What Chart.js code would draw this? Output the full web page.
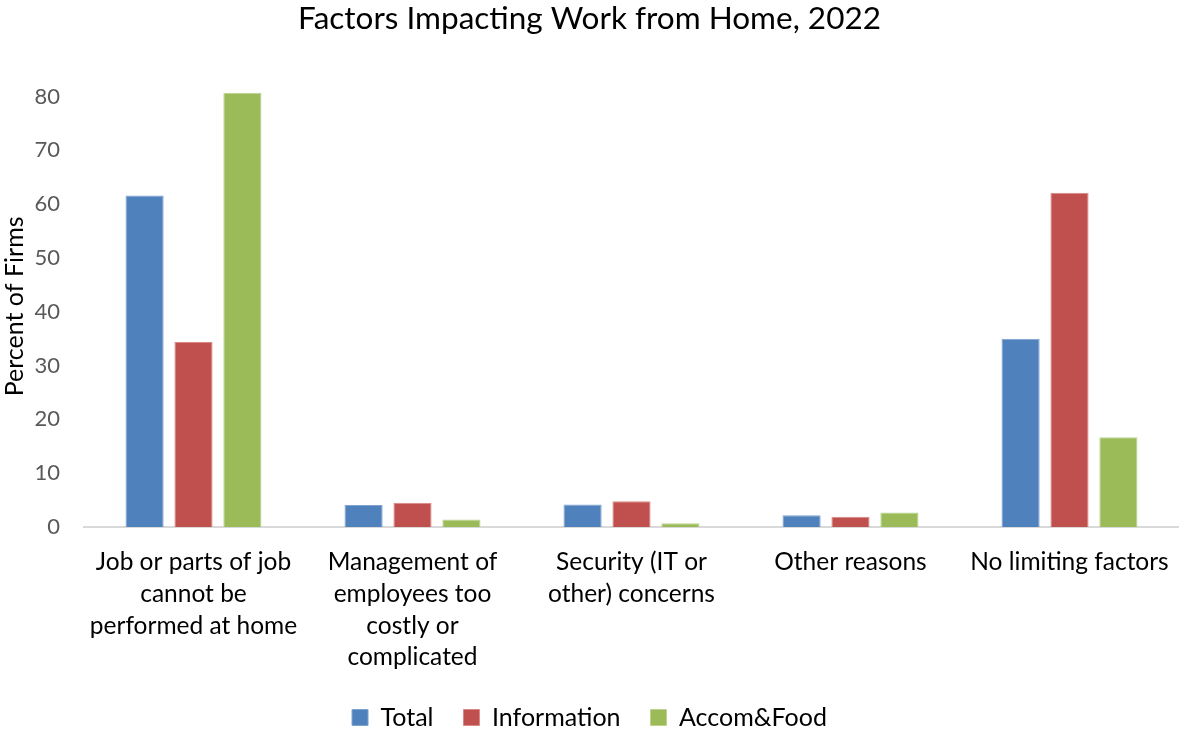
<!DOCTYPE html>
<html>
<head>
<meta charset="utf-8">
<script src="https://cdn.jsdelivr.net/npm/chart.js@4"></script>
<style>
  html, body { margin: 0; padding: 0; background: #fff; }
  #wrap { width: 1179px; height: 729px; }
</style>
</head>
<body>
<div id="wrap"><canvas id="wfh"></canvas></div>
<script>
    // ====== Data ======
    const categories = [
        ['Job or parts of job', 'cannot be', 'performed at home'],
        ['Management of', 'employees too', 'costly or', 'complicated'],
        ['Security (IT or', 'other) concerns'],
        ['Other reasons'],
        ['No limiting factors']
    ];
    const totalVals = [61.6, 4.1, 4.2, 2.2, 35.0];
    const infoVals = [34.4, 4.5, 4.8, 1.9, 62.1];
    const accomVals = [80.7, 1.4, 0.7, 2.7, 16.7];
    const yTicks = [0, 10, 20, 30, 40, 50, 60, 70, 80];

    const FONT = "Lato, 'Open Sans', sans-serif";
    Chart.defaults.font.family = FONT;

    const bar = (label, data, color, edge) => ({
        label, data,
        backgroundColor: color,
        borderColor: edge,
        borderWidth: 1,
        categoryPercentage: 0.67,
        barPercentage: 0.78
    });

    new Chart(document.getElementById('wfh'), {
        type: 'bar',
        data: {
            labels: categories,
            datasets: [
                bar('Total', totalVals, '#4f81bd', '#7fa3d1'),
                bar('Information', infoVals, '#c0504d', '#d98886'),
                bar('Accom&Food', accomVals, '#9bbb59', '#bcd38f')
            ]
        },
        options: {
            responsive: true,
            maintainAspectRatio: false,
            animation: false,
            layout: { padding: { left: 0, right: 0, top: 0, bottom: -11 } },
            scales: {
                x: {
                    // fixed label band; axis line runs to the right edge
                    afterFit: (s) => { s.height = 148; s.paddingLeft = 0; s.paddingRight = 0; },
                    grid: { display: false, drawTicks: false },
                    border: { color: '#d9d9d9', width: 2 },
                    ticks: { color: '#000', font: { size: 24.5, lineHeight: 1.3 }, maxRotation: 0, autoSkip: false, padding: 19 }
                },
                y: {
                    min: 0,
                    max: 82,
                    afterBuildTicks: (s) => { s.ticks = yTicks.map(v => ({ value: v })); },
                    afterFit: (s) => { s.width = 84; },
                    grid: { display: false, drawTicks: false },
                    border: { display: false },
                    ticks: { color: '#595959', font: { size: 22 }, padding: 24 },
                    title: { display: true, text: 'Percent of Firms', color: '#000', font: { size: 25 }, padding: 0 }
                }
            },
            plugins: {
                title: {
                    display: true,
                    text: 'Factors Impacting Work from Home, 2022',
                    color: '#000',
                    font: { size: 31.5, weight: 'normal' },
                    padding: { top: 0, bottom: 48 }
                },
                legend: {
                    position: 'bottom',
                    labels: { color: '#000', font: { size: 25 }, boxWidth: 16, boxHeight: 16, padding: 30 }
                },
                tooltip: { enabled: false }
            }
        }
    });
</script>
</body>
</html>
